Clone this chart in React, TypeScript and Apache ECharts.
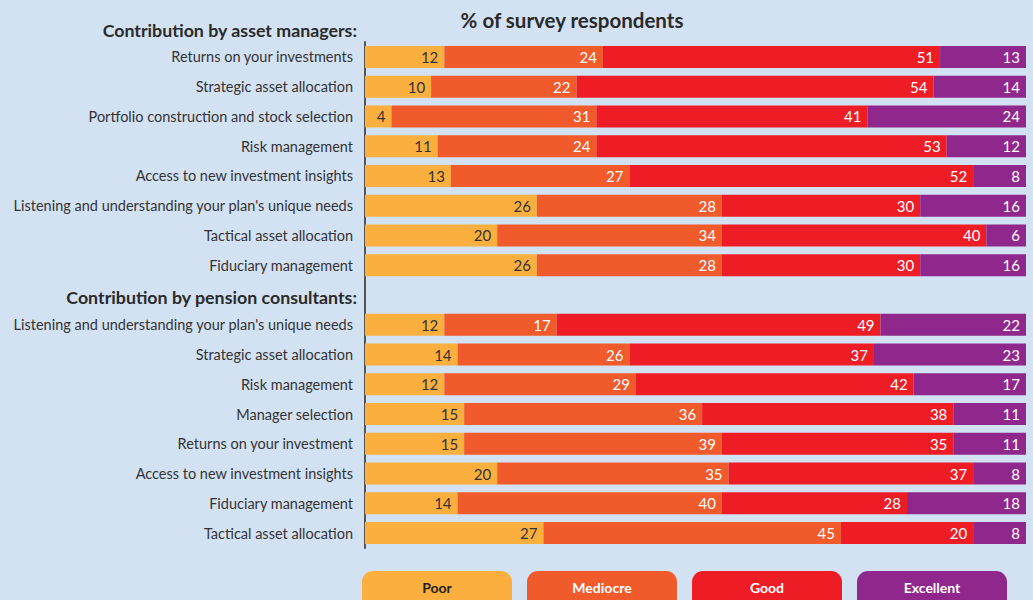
import React, { useEffect, useRef } from "react";
import * as echarts from "echarts";

const managerItems = [
  "Returns on your investments",
  "Strategic asset allocation",
  "Portfolio construction and stock selection",
  "Risk management",
  "Access to new investment insights",
  "Listening and understanding your plan's unique needs",
  "Tactical asset allocation",
  "Fiduciary management",
];
const consultantItems = [
  "Listening and understanding your plan's unique needs",
  "Strategic asset allocation",
  "Risk management",
  "Manager selection",
  "Returns on your investment",
  "Access to new investment insights",
  "Fiduciary management",
  "Tactical asset allocation",
];
const managerHeader = "Contribution by asset managers:";
const consultantHeader = "Contribution by pension consultants:";
const chartTitle = "% of survey respondents";

const seriesNames = ["Poor", "Mediocre", "Good", "Excellent"];
const seriesColors = ["#FBAF3F", "#F15A2B", "#EE1C25", "#8F278D"];
const labelColors = ["#333333", "#ffffff", "#ffffff", "#ffffff"];

const managerPoor = [12, 10, 4, 11, 13, 26, 20, 26];
const managerMediocre = [24, 22, 31, 24, 27, 28, 34, 28];
const managerGood = [51, 54, 41, 53, 52, 30, 40, 30];
const managerExcellent = [13, 14, 24, 12, 8, 16, 6, 16];

const consultantPoor = [12, 14, 12, 15, 15, 20, 14, 27];
const consultantMediocre = [17, 26, 29, 36, 39, 35, 40, 45];
const consultantGood = [49, 37, 42, 38, 35, 37, 28, 20];
const consultantExcellent = [22, 23, 17, 11, 11, 8, 18, 8];

const FONT = "Lato";

export default function App() {
  const ref = useRef<HTMLDivElement>(null);
  useEffect(() => {
    if (!ref.current) return;
    const chart = echarts.init(ref.current, null, { renderer: "svg" });
    const categories = [...managerItems, "", ...consultantItems];
    const mgr = [managerPoor, managerMediocre, managerGood, managerExcellent];
    const con = [consultantPoor, consultantMediocre, consultantGood, consultantExcellent];

    const series = seriesNames.map((name, i) => ({
      name,
      type: "bar",
      stack: "total",
      barWidth: 22,
      itemStyle: { color: seriesColors[i] },
      label: {
        show: true,
        position: "insideRight",
        distance: 6,
        color: labelColors[i],
        fontFamily: FONT,
        fontSize: 15,
      },
      data: [...mgr[i], null, ...con[i]],
    }));

    const legendGraphics: any[] = [];
    seriesNames.forEach((name, i) => {
      const x = 362 + i * 165;
      legendGraphics.push({
        type: "rect",
        shape: { x, y: 571, width: 150, height: 40, r: 11 },
        style: { fill: seriesColors[i] },
      });
      legendGraphics.push({
        type: "text",
        x: x + 75,
        y: 587,
        style: {
          text: name,
          fill: i === 0 ? "#222222" : "#ffffff",
          fontFamily: FONT,
          fontWeight: "bold",
          fontSize: 14,
          textAlign: "center",
          textVerticalAlign: "middle",
        },
      });
    });

    chart.setOption({
      animation: false,
      backgroundColor: "#D3E2F3",
      grid: { left: 365, right: 7, top: 42, bottom: 52 },
      xAxis: {
        type: "value",
        min: 0,
        max: 100,
        show: false,
      },
      yAxis: {
        type: "category",
        inverse: true,
        data: categories,
        axisLine: { show: true, lineStyle: { color: "#555555", width: 2 } },
        axisTick: { show: false },
        axisLabel: {
          color: "#333333",
          fontFamily: FONT,
          fontSize: 14.5,
          margin: 12,
        },
      },
      series,
      graphic: [
        {
          type: "text",
          x: 572,
          y: 20,
          style: {
            text: chartTitle,
            fill: "#2a2a2a",
            fontFamily: FONT,
            fontWeight: "bold",
            fontSize: 20.5,
            textAlign: "center",
            textVerticalAlign: "middle",
          },
        },
        {
          type: "text",
          x: 357,
          y: 30,
          style: {
            text: managerHeader,
            fill: "#2a2a2a",
            fontFamily: FONT,
            fontWeight: "bold",
            fontSize: 17.8,
            textAlign: "right",
            textVerticalAlign: "middle",
          },
        },
        {
          type: "text",
          x: 357,
          y: 297,
          style: {
            text: consultantHeader,
            fill: "#2a2a2a",
            fontFamily: FONT,
            fontWeight: "bold",
            fontSize: 17.8,
            textAlign: "right",
            textVerticalAlign: "middle",
          },
        },
        ...legendGraphics,
      ],
    });
    return () => chart.dispose();
  }, []);
  return (
    <div
      ref={ref}
      style={{ position: "fixed", left: 0, top: 0, width: 1033, height: 600 }}
    />
  );
}
